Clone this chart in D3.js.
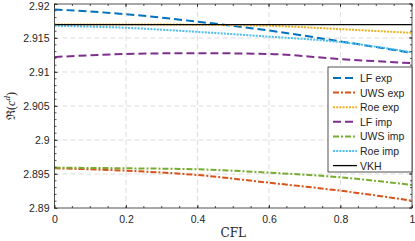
<!DOCTYPE html>
<html><head><meta charset="utf-8">
<script src="https://cdn.jsdelivr.net/npm/d3@7"></script>
<style>body{margin:0;background:#fff;}svg{display:block;}</style>
</head><body><svg id="c" width="415" height="241"></svg>
<script>
const cfl = [0, 0.2, 0.4, 0.6, 0.8, 1.0];
const lfExp  = [2.9192, 2.9185, 2.9174, 2.9161, 2.9145, 2.9128];
const uwsExp = [2.89584, 2.89549, 2.89485, 2.89372, 2.89254, 2.89107];
const roeExp = [2.9170, 2.9170, 2.91695, 2.9168, 2.9163, 2.91575];
const lfImp  = [2.9122, 2.91265, 2.91277, 2.91265, 2.9119, 2.9113];
const uwsImp = [2.89593, 2.89584, 2.89569, 2.8952, 2.89451, 2.89338];
const roeImp = [2.9168, 2.9165, 2.9159, 2.9152, 2.9144, 2.9129];
const vkh    = [2.91697, 2.91697, 2.91697, 2.91697, 2.91697, 2.91697];
const seriesNames = ["LF exp","UWS exp","Roe exp","LF imp","UWS imp","Roe imp","VKH"];
const xTicks = [0, 0.2, 0.4, 0.6, 0.8, 1];
const xTickLabels = ["0","0.2","0.4","0.6","0.8","1"];
const yTicks = [2.89, 2.895, 2.9, 2.905, 2.91, 2.915, 2.92];
const yTickLabels = ["2.89","2.895","2.9","2.905","2.91","2.915","2.92"];

const series = [
  {name: seriesNames[0], v: lfExp,  color: "#0072BD", dash: "8,4", w: 2},
  {name: seriesNames[1], v: uwsExp, color: "#D95319", dash: "6,2,2,2", w: 2},
  {name: seriesNames[2], v: roeExp, color: "#EDB120", dash: "2,1.2", w: 2},
  {name: seriesNames[3], v: lfImp,  color: "#7E2F8E", dash: "8,4", w: 2},
  {name: seriesNames[4], v: uwsImp, color: "#77AC30", dash: "6,2,2,2", w: 2},
  {name: seriesNames[5], v: roeImp, color: "#4DBEEE", dash: "2,1.2", w: 2},
  {name: seriesNames[6], v: vkh,    color: "#000000", dash: null, w: 1.3}
];

const L = 54.5, R = 412, T = 4, B = 208;
const x = d3.scaleLinear().domain([0,1]).range([L,R]);
const y = d3.scaleLinear().domain([2.89,2.92]).range([B,T]);
const svg = d3.select("#c");
const font = "'Liberation Sans', Arial, sans-serif";

// grid
const g = svg.append("g");
g.selectAll(".gx").data(xTicks.slice(1,-1)).enter().append("line")
  .attr("x1", d=>x(d)).attr("x2", d=>x(d)).attr("y1", T).attr("y2", B)
  .attr("stroke", "#dcdcdc").attr("stroke-width", 1).attr("stroke-dasharray", "5,3");
g.selectAll(".gy").data(yTicks.slice(1,-1)).enter().append("line")
  .attr("y1", d=>y(d)).attr("y2", d=>y(d)).attr("x1", L).attr("x2", R)
  .attr("stroke", "#dcdcdc").attr("stroke-width", 1).attr("stroke-dasharray", "5,3");

// lines
const line = d3.line().x((d,i)=>x(cfl[i])).y(d=>y(d)).curve(d3.curveMonotoneX);
const clip = svg.append("clipPath").attr("id","cp").append("rect")
  .attr("x",L).attr("y",T).attr("width",R-L).attr("height",B-T);
series.forEach(s=>{
  svg.append("path").datum(s.v).attr("d", line).attr("fill","none")
    .attr("clip-path","url(#cp)")
    .attr("stroke", s.color).attr("stroke-width", s.w)
    .attr("stroke-dasharray", s.dash);
});

// axes
const ax = d3.axisBottom(x).tickValues(xTicks).tickFormat((d,i)=>xTickLabels[i]).tickSize(-3).tickPadding(8);
const axg = svg.append("g").attr("transform",`translate(0,${B})`).call(ax);
const ay = d3.axisLeft(y).tickValues(yTicks).tickFormat((d,i)=>yTickLabels[i]).tickSize(-3).tickPadding(5);
const ayg = svg.append("g").attr("transform",`translate(${L},0)`).call(ay);
[axg, ayg].forEach(a=>{
  a.select(".domain").remove();
  a.selectAll("line").attr("stroke","#262626").attr("stroke-width",0.8);
  a.selectAll("text").attr("font-family", font).attr("font-size", 10.5).attr("fill","#262626");
});
// keep the top label inside the picture
ayg.selectAll(".tick").filter(d=>d===2.92).select("text").attr("dy","0.5em");
// minor ticks
const xMinor = d3.range(0, 1.0001, 0.05);
const yMinor = d3.range(2.89, 2.92001, 0.001);
const mt = svg.append("g").attr("stroke","#262626").attr("stroke-width",0.8);
xMinor.forEach(v=>{
  mt.append("line").attr("x1",x(v)).attr("x2",x(v)).attr("y1",B).attr("y2",B-2);
  mt.append("line").attr("x1",x(v)).attr("x2",x(v)).attr("y1",T).attr("y2",T+2);
});
xTicks.forEach(v=>{
  mt.append("line").attr("x1",x(v)).attr("x2",x(v)).attr("y1",T).attr("y2",T+3);
});
yMinor.forEach(v=>{
  mt.append("line").attr("y1",y(v)).attr("y2",y(v)).attr("x1",L).attr("x2",L+2);
  mt.append("line").attr("y1",y(v)).attr("y2",y(v)).attr("x1",R).attr("x2",R-2);
});
yTicks.forEach(v=>{
  mt.append("line").attr("y1",y(v)).attr("y2",y(v)).attr("x1",R).attr("x2",R-3);
});
// box
svg.append("rect").attr("x",L).attr("y",T).attr("width",R-L).attr("height",B-T)
  .attr("fill","none").attr("stroke","#262626").attr("stroke-width",0.8);

// labels
svg.append("text").attr("x", (L+R)/2).attr("y", 237).attr("text-anchor","middle")
  .attr("font-family","'DejaVu Serif','Liberation Serif',serif").attr("font-size",12).attr("fill","#262626").text("CFL");
const yl = svg.append("text").attr("transform","translate(15,106) rotate(-90)").attr("text-anchor","middle")
  .attr("font-family","'Liberation Serif','DejaVu Serif',serif").attr("font-size",12).attr("fill","#262626");
yl.append("tspan").text("ℜ(");
yl.append("tspan").attr("font-style","italic").text("c");
yl.append("tspan").attr("font-style","italic").attr("font-size",9).attr("dy",-5).text("d");
yl.append("tspan").attr("dy",5).text(")");

// legend
const lx = 328, ly = 67, lw = R - lx, lh = 105;
svg.append("rect").attr("x",lx).attr("y",ly).attr("width",lw).attr("height",lh)
  .attr("fill","#fff").attr("stroke","#262626").attr("stroke-width",0.8);
series.forEach((s,i)=>{
  const yy = ly + 11 + i*14.6;
  svg.append("line").attr("x1",lx+5).attr("x2",lx+29).attr("y1",yy).attr("y2",yy)
    .attr("stroke",s.color).attr("stroke-width",s.w).attr("stroke-dasharray",s.dash);
  svg.append("text").attr("x",lx+32).attr("y",yy+4).attr("font-family",font)
    .attr("font-size",10.5).attr("fill","#262626").text(s.name);
});
</script></body></html>
